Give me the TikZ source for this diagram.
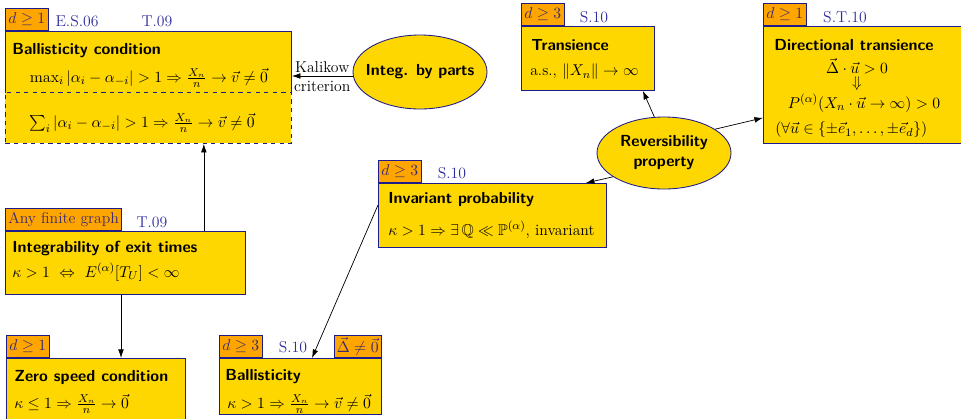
\documentclass[tikz,border=0pt]{standalone}
\usepackage{amsmath,amssymb}
\usetikzlibrary{arrows.meta,calc,shapes.geometric}
\definecolor{boxgold}{HTML}{FFD700}
\definecolor{tagorange}{HTML}{FFA500}
\definecolor{edgeblue}{HTML}{1C1C8A}
\definecolor{refblue}{HTML}{2E2E9E}
\definecolor{tagtext}{HTML}{3A2A70}
\newcommand{\pw}[1]{#1*0.7pt}

\begin{document}
\begin{tikzpicture}[x=0.7pt,y=-0.7pt,font=\fontsize{11}{13.5}\selectfont,
  box/.style={rectangle,fill=boxgold,draw=edgeblue,line width=0.6pt,
    anchor=north west,inner sep=0pt},
  tag/.style={rectangle,fill=tagorange,draw=edgeblue,line width=0.6pt,
    inner xsep=2pt,inner ysep=0pt,minimum height=\pw{22},
    text=tagtext,anchor=south west},
  ref/.style={text=refblue,inner sep=0pt},
  ttl/.style={font=\fontsize{11.2}{13.5}\selectfont\sffamily\bfseries,
    inner sep=0pt,anchor=west},
  txt/.style={inner sep=0pt},
  oval/.style={ellipse,fill=boxgold,draw=edgeblue,line width=0.6pt,inner sep=0pt,
    font=\fontsize{11.2}{14}\selectfont\sffamily\bfseries,align=center},
  arr/.style={-{Latex[length=6pt,width=4pt]},line width=0.5pt}]

  \useasboundingbox (0,0) rectangle (961,418);

  \node[box,draw=none,minimum width=\pw{286},minimum height=\pw{61}] (bc) at (5,31) {};
  \node[box,dashed,minimum width=\pw{286},minimum height=\pw{51}] (bcx) at (5,92) {};
  \draw[edgeblue,line width=0.6pt] (bc.south west) |- (bc.north east) -- (bc.south east);
  \node[tag] (bctag) at (bc.north west) {$d\geq 1$};
  \node[ref] (bcref) at (77,21) {E.S.06};
  \node[ref] (bcref2) at (157,21) {T.09};
  \node[ttl] (bcttl) at (12,51) {Ballisticity condition};
  \node[txt] (bcmax) at (149,78) {$\max_i|\alpha_i-\alpha_{-i}|>1\Rightarrow\frac{X_n}{n}\to\vec v\neq\vec 0$};
  \node[txt] (bcsum) at (142,123) {$\sum_i|\alpha_i-\alpha_{-i}|>1\Rightarrow\frac{X_n}{n}\to\vec v\neq\vec 0$};

  \node[oval,inner xsep=-6pt,minimum width=\pw{134},minimum height=\pw{74}] (ibp) at (420,72) {Integ. by parts};

  \node[box,minimum width=\pw{133},minimum height=\pw{64}] (tr) at (521,26) {};
  \node[tag] (trtag) at (tr.north west) {$d\geq 3$};
  \node[ref] (trref) at (594,17) {S.10};
  \node[ttl] (trttl) at (531,45) {Transience};
  \node[txt,anchor=west] (trtxt) at (530,72) {a.s., $\|X_n\|\to\infty$};

  \node[box,minimum width=\pw{215},minimum height=\pw{117}] (dt) at (763,26) {};
  \node[tag] (dttag) at (dt.north west) {$d\geq 1$};
  \node[ref] (dtref) at (845,17) {S.T.10};
  \node[ttl,anchor=center] (dtttl) at (854,45) {Directional transience};
  \node[txt] (dtdel) at (857,66) {$\vec\Delta\cdot\vec u>0$};
  \node[txt] (dtimp) at (857,84) {$\Downarrow$};
  \node[txt] (dtprob) at (864,103) {$P^{(\alpha)}(X_n\cdot\vec u\to\infty)>0$};
  \node[txt,anchor=west] (dtall) at (775,130) {$(\forall\vec u\in\{\pm\vec e_1,\dots,\pm\vec e_d\})$};

  \node[oval,minimum width=\pw{134},minimum height=\pw{72}] (rp) at (664,153) {Reversibility\\property};

  \node[box,minimum width=\pw{228},minimum height=\pw{64}] (ip) at (378,183) {};
  \node[tag] (iptag) at (ip.north west) {$d\geq 3$};
  \node[ref] (ipref) at (452,173) {S.10};
  \node[ttl] (ipttl) at (388,200) {Invariant probability};
  \node[txt,anchor=west] (iptxt) at (388,230) {$\kappa>1\Rightarrow\exists\,\mathbb{Q}\ll\mathbb{P}^{(\alpha)}$, invariant};

  \node[box,minimum width=\pw{240},minimum height=\pw{63}] (ie) at (5,231) {};
  \node[tag] (ietag) at (ie.north west) {Any finite graph};
  \node[ref] (ieref) at (152,222) {T.09};
  \node[ttl] (iettl) at (12,248) {Integrability of exit times};
  \node[txt,anchor=west] (ietxt) at (12,272) {$\kappa>1\ \Leftrightarrow\ E^{(\alpha)}[T_U]<\infty$};

  \node[box,minimum width=\pw{179},minimum height=\pw{70}] (zs) at (6,358) {};
  \node[tag] (zstag) at (zs.north west) {$d\geq 1$};
  \node[ttl] (zsttl) at (14,377) {Zero speed condition};
  \node[txt,anchor=west] (zstxt) at (14,404) {$\kappa\leq 1\Rightarrow\frac{X_n}{n}\to\vec 0$};

  \node[box,minimum width=\pw{162},minimum height=\pw{56}] (bl) at (219,358) {};
  \node[tag] (bltag) at (bl.north west) {$d\geq 3$};
  \node[tag,anchor=south east] (bltag2) at (bl.north east) {$\vec\Delta\neq\vec 0$};
  \node[ref] (blref) at (293,347) {S.10};
  \node[ttl] (blttl) at (225,377) {Ballisticity};
  \node[txt,anchor=west] (bltxt) at (227,404) {$\kappa>1\Rightarrow\frac{X_n}{n}\to\vec v\neq\vec 0$};

  \coordinate (ieup) at ($(ie.north east)+(-42,0)$);
  \coordinate (iedn) at ($(ie.south west)+(116,0)$);

  \draw[arr] ($(ibp.west)+(0,4)$) -- ($(ibp.west -| bc.east)+(0,4)$)
    node[midway,above,inner sep=2pt] {Kalikow} node[midway,below,inner sep=3.5pt] {criterion};
  \draw[arr] (rp.105) -- ($(tr.south east)+(-12,0)$);
  \draw[arr] (rp.25) -- ($(dt.south west)+(0,-26)$);
  \draw[arr] (rp.205) -- ($(ip.north east)+(-21,0)$);
  \draw[arr] (ieup) -- (ieup |- bcx.south);
  \draw[arr] (iedn) -- (iedn |- zs.north);
  \draw[arr] ($(ip.north west)+(0,22)$) -- ($(bl.north west)+(93,0)$);
\end{tikzpicture}
\end{document}
